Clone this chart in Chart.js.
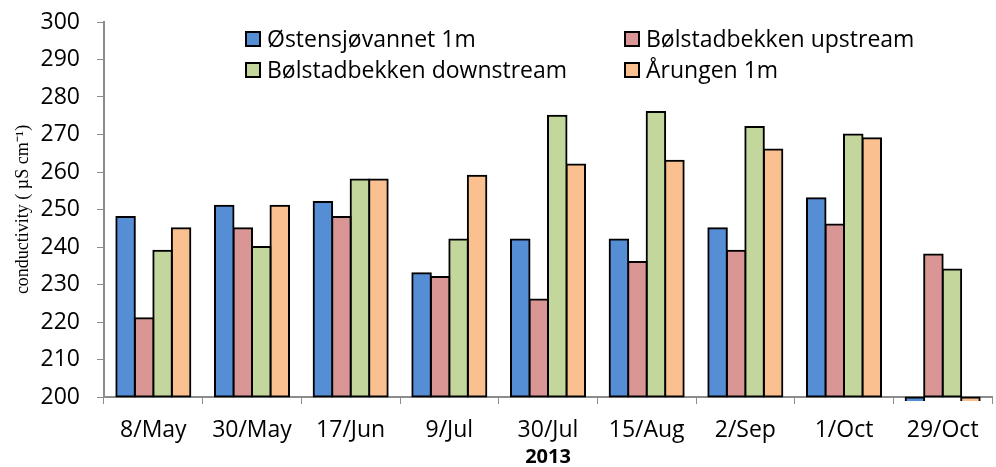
<!DOCTYPE html>
<html>
<head>
<meta charset="utf-8">
<script src="https://cdn.jsdelivr.net/npm/chart.js@4/dist/chart.umd.min.js"></script>
<style>
  html, body { margin: 0; padding: 0; background: #fff; }
  #wrap { width: 996px; height: 467px; }
</style>
</head>
<body>
<div id="wrap"><canvas id="chart"></canvas></div>
<script>
const dates = ["8/May", "30/May", "17/Jun", "9/Jul", "30/Jul", "15/Aug", "2/Sep", "1/Oct", "29/Oct"];
const ostensjovannet = [248, 251, 252, 233, 242, 242, 245, 253, 0];
const bolstadUp = [221, 245, 248, 232, 226, 236, 239, 246, 238];
const bolstadDown = [239, 240, 258, 242, 275, 276, 272, 270, 234];
const arungen = [245, 251, 258, 259, 262, 263, 266, 269, 0];
const yTicks = [200, 210, 220, 230, 240, 250, 260, 270, 280, 290, 300];

const font = "'Open Sans', 'Liberation Sans', sans-serif";
const axisGrey = "#8c8c8c";

function series(label, data, color) {
    return {
        label,
        data,
        base: yTicks[0],
        backgroundColor: color,
        borderColor: "#000",
        borderWidth: 2,
        borderSkipped: false,
        inflateAmount: 1,
        clip: 4,
        categoryPercentage: 0.75,
        barPercentage: 1.0,
    };
}

// two-column legend drawn inside the top of the plot
const boxLegend = {
    id: "boxLegend",
    afterDraw(chart) {
        const ctx = chart.ctx;
        const area = chart.chartArea;
        const cols = [area.left + 142, area.left + 521];
        const rows = [area.top + 17, area.top + 48];
        ctx.save();
        ctx.font = "23px " + font;
        ctx.textBaseline = "middle";
        chart.data.datasets.forEach((ds, i) => {
            const x = cols[i % 2];
            const y = rows[Math.floor(i / 2)];
            ctx.fillStyle = ds.backgroundColor;
            ctx.fillRect(x, y - 7, 14, 14);
            ctx.lineWidth = 2;
            ctx.strokeStyle = "#000";
            ctx.strokeRect(x, y - 7, 14, 14);
            ctx.fillStyle = "#000";
            ctx.fillText(ds.label, x + 21, y + 1);
        });
        ctx.restore();
    }
};

new Chart(document.querySelector("#chart"), {
    type: "bar",
    data: {
        labels: dates,
        datasets: [
            series("Østensjøvannet 1m", ostensjovannet, "#558ed5"),
            series("Bølstadbekken upstream", bolstadUp, "#d99694"),
            series("Bølstadbekken downstream", bolstadDown, "#c3d69b"),
            series("Årungen 1m", arungen, "#fac090"),
        ]
    },
    options: {
        responsive: true,
        maintainAspectRatio: false,
        animation: false,
        layout: { padding: { top: 22, right: 4, left: 2, bottom: 0 } },
        plugins: {
            legend: { display: false },
            tooltip: { enabled: false },
        },
        scales: {
            x: {
                afterFit: scale => { scale.height = 70; },
                grid: {
                    offset: true,
                    drawOnChartArea: false,
                    tickLength: 7,
                    color: axisGrey,
                },
                border: { color: axisGrey, width: 2 },
                ticks: {
                    color: "#000",
                    font: { family: font, size: 23 },
                    padding: 13,
                    maxRotation: 0,
                },
                title: {
                    display: true,
                    text: "2013",
                    color: "#000",
                    font: { family: font, size: 20, weight: "bold" },
                    padding: { top: 0, bottom: -2 },
                },
            },
            y: {
                min: 200,
                max: 300,
                afterBuildTicks: axis => {
                    axis.ticks = yTicks.map(v => ({ value: v }));
                },
                afterFit: scale => {
                    scale.width = 102;
                    scale.paddingTop = 0;
                },
                grid: {
                    drawOnChartArea: false,
                    tickLength: 7,
                    color: axisGrey,
                },
                border: { color: axisGrey, width: 2 },
                ticks: {
                    color: "#000",
                    font: { family: font, size: 23 },
                    padding: 17,
                },
                title: {
                    display: true,
                    text: "conductivity ( µS cm⁻¹)",
                    color: "#000",
                    font: { family: "'Liberation Serif', serif", size: 18 },
                    padding: { top: 10, bottom: 0 },
                },
            }
        }
    },
    plugins: [boxLegend]
});
</script>
</body>
</html>
